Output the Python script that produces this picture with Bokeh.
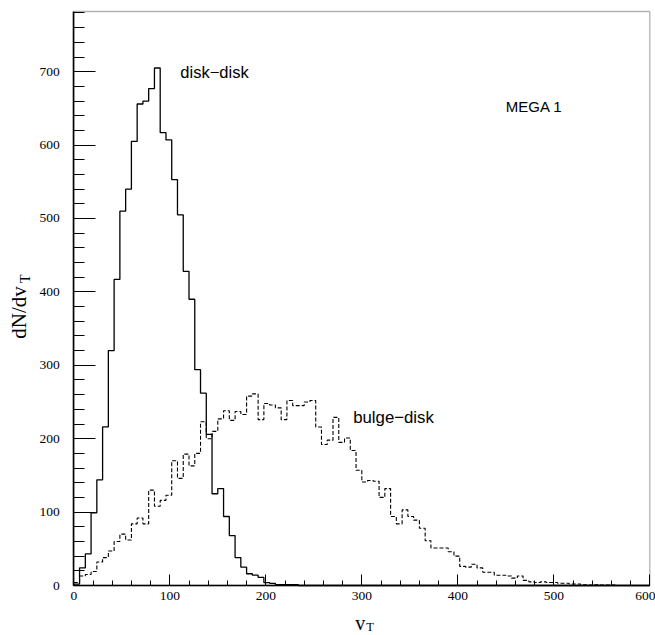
import numpy as np
from bokeh.plotting import figure
from bokeh.models import Range1d, FixedTicker, Label, LinearAxis, BoxAnnotation
from bokeh.embed import file_html
from bokeh.resources import INLINE

# Histogram bins of v_T (width 6, from 0 to 600)
bin_width = 6
bin_edges = np.arange(0, 600 + bin_width, bin_width)

# dN/dv_T counts per bin, disk-disk (solid)
disk_disk = [2, 24, 43, 99, 144, 216, 320, 417, 510, 540,
             605, 656, 660, 677, 705, 617, 607, 553, 505, 428,
             390, 294, 262, 206, 125, 132, 94, 68, 38, 25,
             16, 14, 11, 4, 3, 1, 1, 1, 1, 0,
             0, 0, 0, 0, 0, 0, 0, 0, 0, 0,
             0, 0, 0, 0, 0, 0, 0, 0, 0, 0,
             0, 0, 0, 0, 0, 0, 0, 0, 0, 0,
             0, 0, 0, 0, 0, 0, 0, 0, 0, 0,
             0, 0, 0, 0, 0, 0, 0, 0, 0, 0,
             0, 0, 0, 0, 0, 0, 0, 0, 0, 0]

# dN/dv_T counts per bin, bulge-disk (dashed)
bulge_disk = [4, 13, 15, 19, 32, 38, 47, 60, 70, 62,
              84, 92, 84, 130, 108, 116, 123, 170, 146, 179,
              163, 180, 223, 200, 210, 227, 238, 225, 237, 233,
              258, 261, 226, 248, 246, 242, 226, 252, 245, 245,
              250, 252, 216, 192, 198, 229, 195, 201, 184, 157,
              141, 143, 142, 120, 132, 94, 84, 103, 94, 89,
              78, 61, 51, 51, 51, 46, 40, 26, 25, 29,
              24, 18, 18, 14, 14, 13, 10, 13, 7, 5,
              4, 5, 4, 4, 3, 3, 2, 2, 1, 0.5,
              1, 0.5, 0.5, 0.5, 0, 0, 0, 0, 0, 0]

# axis extents and ticks
x_min, x_max = 0, 600
y_min, y_max = 0, 782
x_major = [0, 100, 200, 300, 400, 500, 600]
y_major = [0, 100, 200, 300, 400, 500, 600, 700]
x_minor = list(range(0, 601, 20))
y_minor = list(range(0, 781, 20))

series_labels = ["disk\u2212disk", "bulge\u2212disk"]
run_label = "MEGA 1"

W, H = 655, 635
# pixel placement of the plotting box inside the canvas
box_left, box_right, box_top, box_bottom = 73.3, 649.3, 11.0, 585.0
sx = (box_right - box_left) / (x_max - x_min)
sy = (box_bottom - box_top) / (y_max - y_min)
xr = Range1d(x_min - box_left / sx, x_min - box_left / sx + W / sx)
yr = Range1d(y_min - (H - box_bottom) / sy, y_min - (H - box_bottom) / sy + H / sy)

p = figure(width=W, height=H, output_backend="svg", toolbar_location=None,
           x_range=xr, y_range=yr, x_axis_location=None, y_axis_location=None,
           min_border=0)
p.min_border_left = 0
p.min_border_right = 0
p.min_border_top = 0
p.min_border_bottom = 0
p.background_fill_color = "white"
p.border_fill_color = "white"
p.outline_line_color = None
p.xgrid.visible = False
p.ygrid.visible = False

p.step(x=bin_edges, y=np.append(disk_disk, disk_disk[-1]), mode="after",
       line_color="black", line_width=1.3)
p.step(x=bin_edges, y=np.append(bulge_disk, bulge_disk[-1]), mode="after",
       line_color="black", line_width=1.1, line_dash="4 2")

# plotting box frame
p.add_layout(BoxAnnotation(left=x_min, right=x_max, bottom=y_min, top=y_max,
                           fill_alpha=0, fill_color=None, line_color="black",
                           line_width=1.3, level="overlay"))

serif = "Liberation Serif"
xaxis = LinearAxis(fixed_location=0, bounds=(x_min, x_max),
                   ticker=FixedTicker(ticks=x_major, minor_ticks=x_minor))
yaxis = LinearAxis(fixed_location=0, bounds=(y_min, y_max),
                   ticker=FixedTicker(ticks=y_major, minor_ticks=y_minor))
for ax in (xaxis, yaxis):
    ax.axis_line_color = "black"
    ax.axis_line_width = 1.6
    ax.major_tick_line_color = "black"
    ax.minor_tick_line_color = "black"
    ax.major_tick_out = 0
    ax.minor_tick_out = 0
    ax.major_label_text_font = serif
    ax.major_label_text_font_size = "13.5px"
    ax.major_label_text_color = "black"
xaxis.major_tick_in = 11
xaxis.minor_tick_in = 5
xaxis.major_label_standoff = 6
yaxis.major_tick_in = 22
yaxis.minor_tick_in = 11
yaxis.major_label_standoff = 14
p.add_layout(xaxis, "below")
p.add_layout(yaxis, "left")

# annotations
p.add_layout(Label(x=111, y=699, text=series_labels[0], text_font="Liberation Sans",
                   text_font_size="16.5px", text_color="black", text_baseline="alphabetic"))
p.add_layout(Label(x=291, y=229, text=series_labels[1], text_font="Liberation Sans",
                   text_font_size="16.8px", text_color="black", text_baseline="alphabetic"))
p.add_layout(Label(x=450, y=653, text=run_label, text_font="Liberation Sans",
                   text_font_size="15px", text_color="black", text_baseline="alphabetic"))

# axis titles (with subscript T)
p.add_layout(Label(x=-57.6, y=372, text="dN/dv", angle=np.pi / 2, text_font=serif,
                   text_font_size="21px", text_color="black", text_align="center",
                   text_baseline="middle"))
p.add_layout(Label(x=-50.0, y=418, text="T", angle=np.pi / 2, text_font=serif,
                   text_font_size="14px", text_color="black", text_align="center",
                   text_baseline="middle"))
p.add_layout(Label(x=298.5, y=-50.5, text="v", text_font=serif,
                   text_font_size="20px", text_color="black", text_align="center",
                   text_baseline="middle"))
p.add_layout(Label(x=308.5, y=-57.0, text="T", text_font=serif,
                   text_font_size="12.5px", text_color="black", text_align="center",
                   text_baseline="middle"))

open("out.html", "w").write(file_html(p, INLINE))
